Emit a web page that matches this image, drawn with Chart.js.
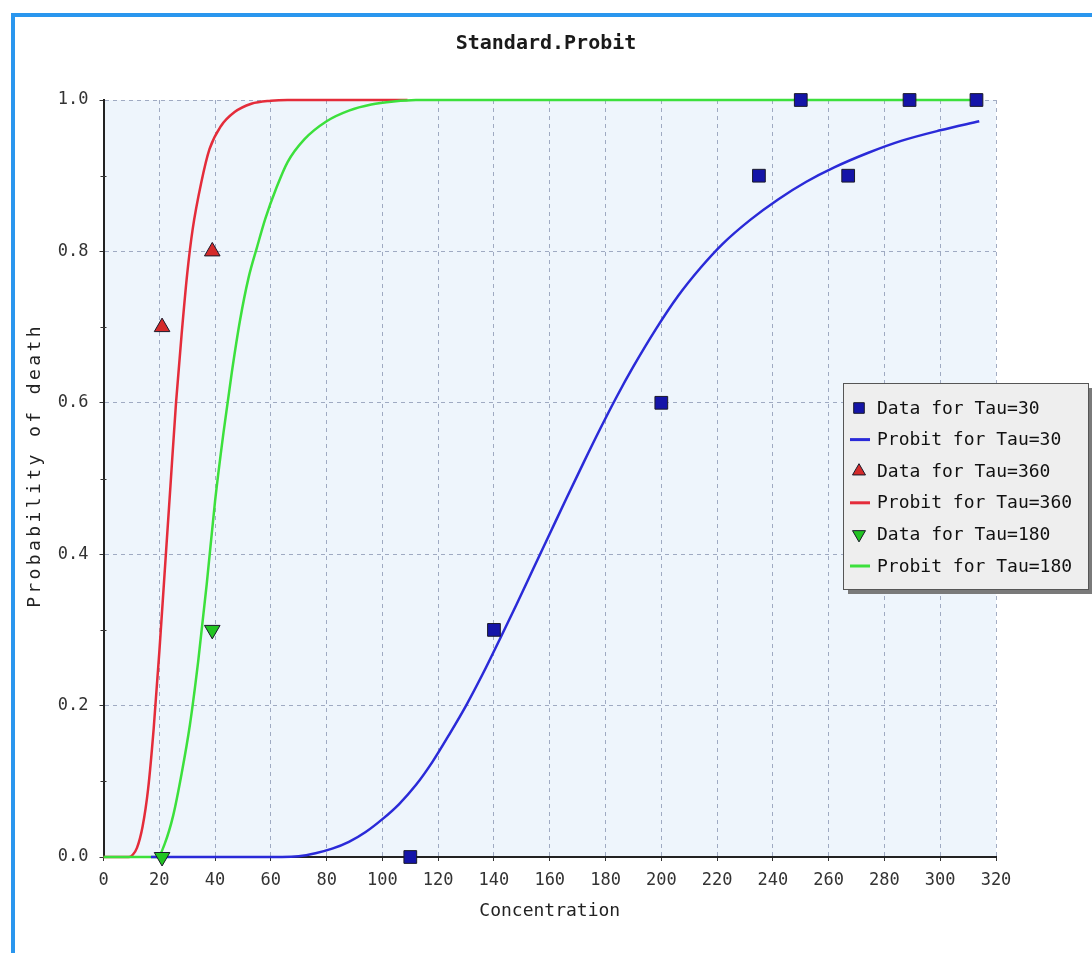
<!DOCTYPE html>
<html>
<head>
<meta charset="utf-8">
<title>Standard.Probit</title>
<script src="https://cdn.jsdelivr.net/npm/chart.js@4.4.1/dist/chart.umd.min.js"></script>
<style>
  body { margin: 0; background: #fff; overflow: hidden; }
  #wrap { position: relative; width: 1092px; height: 953px; }
  #probitChart { display: block; }
  #frame {
    position: absolute; left: 11px; top: 13px; right: -20px; bottom: -20px;
    border-left: 4px solid #2a96ee; border-top: 4px solid #2a96ee;
    pointer-events: none;
  }
</style>
</head>
<body>
<div id="wrap">
  <canvas id="probitChart" width="1092" height="953"></canvas>
  <div id="frame"></div>
</div>
<script>
// Observed data (concentration vs. fraction dead)
const tau30Conc = [110, 140, 200, 235, 250, 267, 289, 313];
const tau30Prob = [0.0, 0.3, 0.6, 0.9, 1.0, 0.9, 1.0, 1.0];
const tau360Conc = [21, 39];
const tau360Prob = [0.7, 0.8];
const tau180Conc = [21, 39];
const tau180Prob = [0.0, 0.3];

// Fitted probit curves
const probit30Conc = [17, 64, 70, 76, 82, 88, 94, 100, 106, 112, 118, 124, 130, 136, 142, 148, 154, 160, 166, 172, 178, 184, 190, 198, 206, 214, 222, 232, 242, 252, 262, 274, 286, 300, 314];
const probit30Prob = [0, 0, 0.001, 0.005, 0.011, 0.02, 0.033, 0.05, 0.07, 0.095, 0.126, 0.162, 0.2, 0.242, 0.287, 0.333, 0.38, 0.427, 0.474, 0.52, 0.565, 0.608, 0.648, 0.697, 0.741, 0.778, 0.81, 0.842, 0.869, 0.892, 0.911, 0.93, 0.946, 0.96, 0.972];
const probit360Conc = [0, 9, 10.5, 12, 14, 16, 18, 20, 22, 24, 26, 28, 30, 32, 35, 38, 42, 47, 53, 60, 66, 109];
const probit360Prob = [0, 0, 0.003, 0.012, 0.04, 0.09, 0.17, 0.27, 0.38, 0.49, 0.6, 0.69, 0.77, 0.83, 0.89, 0.935, 0.965, 0.984, 0.995, 0.999, 1, 1];
const probit180Conc = [0, 19.5, 22, 25, 28, 31, 34, 37, 40, 43, 46, 49, 52, 55, 58, 62, 66, 72, 80, 88, 96, 104, 112, 315];
const probit180Prob = [0, 0, 0.018, 0.055, 0.11, 0.175, 0.26, 0.36, 0.47, 0.56, 0.64, 0.71, 0.765, 0.805, 0.843, 0.884, 0.918, 0.948, 0.972, 0.986, 0.994, 0.998, 1, 1];

const xMin = 0, xMax = 320, xStep = 20;
const yMin = 0, yMax = 1, yStep = 0.2;

const mono = '"DejaVu Sans Mono", "Liberation Mono", monospace';

// Utility: zip two arrays into {x, y} points
function toPoints(xs, ys) {
  return xs.map((x, i) => ({ x: x, y: ys[i] }));
}

function markerSet(label, xs, ys, style, fill, rotation = 0) {
  return {
    label: label,
    data: toPoints(xs, ys),
    showLine: false,
    pointStyle: style,
    rotation: rotation,
    pointRotation: rotation,
    pointRadius: 9,
    pointBackgroundColor: fill,
    backgroundColor: fill,
    pointBorderColor: '#1a1a2a',
    borderColor: '#1a1a2a',
    pointBorderWidth: 1,
    clip: false,
    order: 0
  };
}

function curveSet(label, xs, ys, color, order) {
  return {
    label: label,
    data: toPoints(xs, ys),
    showLine: true,
    borderColor: color,
    backgroundColor: color,
    borderWidth: 2.5,
    pointRadius: 0,
    fill: false,
    cubicInterpolationMode: 'monotone',
    clip: false,
    order: order
  };
}

// Light blue plot background
const plotBackground = {
  id: 'plotBackground',
  beforeDraw(chart) {
    const { ctx, chartArea: a } = chart;
    ctx.save();
    ctx.fillStyle = '#eef5fc';
    ctx.fillRect(a.left, a.top, a.right - a.left, a.bottom - a.top);
    ctx.restore();
  }
};

// Small minor ticks halfway between the y labels
const minorTicks = {
  id: 'minorTicks',
  afterDatasetsDraw(chart) {
    const { ctx, scales: { y } } = chart;
    const ticks = y.ticks;
    ctx.save();
    ctx.strokeStyle = '#333';
    ctx.lineWidth = 1;
    for (let i = 0; i < ticks.length - 1; i++) {
      const py = Math.round(y.getPixelForValue((ticks[i].value + ticks[i + 1].value) / 2)) + 0.5;
      ctx.beginPath();
      ctx.moveTo(y.right - 3, py);
      ctx.lineTo(y.right + 3, py);
      ctx.stroke();
    }
    ctx.restore();
  }
};

// Vertical axis title (spaced out like the original)
const yAxisTitle = {
  id: 'yAxisTitle',
  afterDraw(chart) {
    const { ctx, chartArea: a } = chart;
    ctx.save();
    ctx.translate(35, (a.top + a.bottom) / 2 - 13);
    ctx.rotate(-Math.PI / 2);
    ctx.font = '18px ' + mono;
    ctx.letterSpacing = '3.4px';
    ctx.fillStyle = '#222';
    ctx.textAlign = 'center';
    ctx.textBaseline = 'middle';
    ctx.fillText('Probability of death', 0, 0);
    ctx.restore();
  }
};

// Floating legend box with drop shadow
const floatingLegend = {
  id: 'floatingLegend',
  afterDraw(chart) {
    const ctx = chart.ctx;
    const box = { x: 843, y: 383, w: 245, h: 206 };
    ctx.save();
    ctx.fillStyle = '#7a7a7a';
    ctx.fillRect(box.x + 5, box.y + 5, box.w, box.h);
    ctx.fillStyle = '#eeeeee';
    ctx.fillRect(box.x, box.y, box.w, box.h);
    ctx.strokeStyle = '#555';
    ctx.lineWidth = 1;
    ctx.strokeRect(box.x + 0.5, box.y + 0.5, box.w, box.h);
    ctx.font = '18px ' + mono;
    ctx.textBaseline = 'middle';
    chart.data.datasets.forEach((ds, i) => {
      const y = box.y + 25 + i * 31.6;
      if (ds.showLine) {
        ctx.strokeStyle = ds.borderColor;
        ctx.lineWidth = 3;
        ctx.beginPath();
        ctx.moveTo(box.x + 7, y);
        ctx.lineTo(box.x + 27, y);
        ctx.stroke();
      } else {
        ctx.fillStyle = ds.backgroundColor;
        ctx.strokeStyle = ds.borderColor;
        ctx.lineWidth = 1;
        Chart.helpers.drawPoint(ctx, {
          pointStyle: ds.pointStyle, rotation: ds.rotation, radius: 7.5, borderWidth: 1
        }, box.x + 16, y);
      }
      ctx.fillStyle = '#111';
      ctx.fillText(ds.label, box.x + 34, y + 1);
    });
    ctx.restore();
  }
};

const gridStyle = {
  color: 'rgba(125,138,170,0.7)',
  tickColor: '#333',
  tickBorderDash: [],
  tickLength: 4,
  tickWidth: 1
};

new Chart(document.getElementById('probitChart'), {
  type: 'scatter',
  data: {
    datasets: [
      markerSet('Data for Tau=30', tau30Conc, tau30Prob, 'rect', '#1414a8'),
      curveSet('Probit for Tau=30', probit30Conc, probit30Prob, '#2a2ad8', 1),
      markerSet('Data for Tau=360', tau360Conc, tau360Prob, 'triangle', '#d42a2a'),
      curveSet('Probit for Tau=360', probit360Conc, probit360Prob, '#e42c3a', 3),
      markerSet('Data for Tau=180', tau180Conc, tau180Prob, 'triangle', '#22c422', 180),
      curveSet('Probit for Tau=180', probit180Conc, probit180Prob, '#3ce03c', 2)
    ]
  },
  options: {
    responsive: false,
    animation: false,
    plugins: {
      legend: { display: false },
      tooltip: { enabled: false },
      title: {
        display: true,
        text: 'Standard.Probit',
        color: '#1a1a1a',
        font: { family: mono, size: 20, weight: 'bold' },
        padding: { top: 32, bottom: 44 }
      }
    },
    scales: {
      x: {
        type: 'linear',
        min: xMin,
        max: xMax,
        afterFit: s => { s.height = 96; },
        border: { display: true, color: '#222', width: 2, dash: [4, 4] },
        grid: gridStyle,
        ticks: { stepSize: xStep, color: '#333', padding: 9, font: { family: mono, size: 17 } },
        title: {
          display: true, text: 'Concentration', color: '#222',
          font: { family: mono, size: 18 }, padding: { bottom: 31 }
        }
      },
      y: {
        type: 'linear',
        min: yMin,
        max: yMax,
        afterFit: s => { s.width = 103.5; },
        border: { display: true, color: '#222', width: 2, dash: [4, 4] },
        grid: gridStyle,
        ticks: {
          stepSize: yStep, color: '#333', padding: 11,
          font: { family: mono, size: 17 },
          callback: v => v.toFixed(1)
        }
      },
      // empty right-hand axis, only reserves the margin next to the plot
      yRight: {
        type: 'linear',
        position: 'right',
        afterFit: s => { s.width = 96; },
        border: { display: false },
        grid: { display: false },
        ticks: { display: false }
      }
    }
  },
  plugins: [plotBackground, minorTicks, yAxisTitle, floatingLegend]
});
</script>
</body>
</html>
